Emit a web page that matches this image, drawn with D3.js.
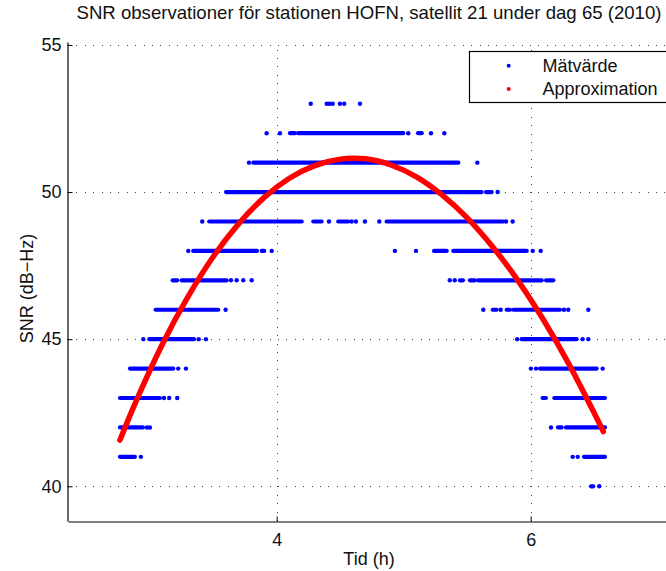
<!DOCTYPE html>
<html>
<head>
<meta charset="utf-8">
<script src="https://cdn.jsdelivr.net/npm/d3@7"></script>
<style>
  html, body { margin: 0; padding: 0; background: #fff; }
  svg { display: block; font-family: "Liberation Sans", Arial, Helvetica, sans-serif; }
</style>
</head>
<body>
<svg id="chart" width="666" height="571"></svg>
<script>
// SNR observations per integer level (dB-Hz), time in hours.
// A single number is one observation, a pair [t0, t1] is a continuous run of observations.
const snr53 = [4.268, 4.394, 4.415, 4.441, 4.498, 4.532, 4.656];
const snr52 = [3.921, 4.026, [4.105, 4.144], [4.170, 4.997], 5.036, [5.113, 5.142], 5.215, 5.320];
const snr51 = [3.782, [3.816, 5.430], 5.580];
const snr50 = [[3.601, 5.614], [5.648, 5.693], 5.740];
const snr49 = [3.414, [3.469, 4.197], [4.288, 4.354], 4.412, [4.485, 4.564], 4.591, 4.624, 4.695, 4.808,
               [4.866, 5.784], 5.806, 5.858];
const snr48 = [3.304, [3.343, 3.845], [3.882, 3.902], 3.961, 4.931, 5.097, [5.239, 5.339],
               [5.391, 5.969], 6.016, 6.079];
const snr47 = [[3.181, 3.217], [3.252, 3.606], 3.640, 3.685, 3.737, 3.803,
               5.363, 5.402, [5.443, 5.467], [5.522, 5.561], [5.587, 6.087], [6.121, 6.178]];
const snr46 = [[3.047, 3.540], 3.598,
               5.627, [5.701, 5.732], 5.764, [5.811, 5.837], [5.863, 6.231], 6.262, 6.296, 6.454];
const snr45 = [2.950, [2.997, 3.349], 3.386, 3.443,
               5.894, [5.929, 6.362], 6.409, 6.454];
const snr44 = [[2.845, 3.186], 3.225, 3.286,
               6.002, 6.042, [6.073, 6.520], 6.567];
const snr43 = [[2.766, 3.081], 3.113, 3.154, 3.217,
               [6.094, 6.120], [6.186, 6.585]];
const snr42 = [[2.766, 2.947], 2.979, 3.002,
               6.160, [6.215, 6.244], [6.278, 6.585]];
const snr41 = [[2.766, 2.884], 2.931,
               6.331, 6.370, [6.420, 6.585]];
const snr40 = [[6.475, 6.493], 6.540];

const snrLevels = [53, 52, 51, 50, 49, 48, 47, 46, 45, 44, 43, 42, 41, 40];
const snrRuns = [snr53, snr52, snr51, snr50, snr49, snr48, snr47, snr46, snr45, snr44, snr43, snr42, snr41, snr40];

// Fitted approximation curve (time in hours, SNR in dB-Hz)
const fitTime = [2.766, 2.9, 3.1, 3.3, 3.5, 3.7, 3.9, 4.1, 4.3, 4.5, 4.7,
                 4.9, 5.1, 5.3, 5.5, 5.7, 5.9, 6.1, 6.3, 6.5, 6.572];
const fitSNR  = [41.57, 42.96, 44.83, 46.43, 47.80, 48.92, 49.81, 50.47, 50.90, 51.12, 51.13,
                 50.92, 50.52, 49.91, 49.12, 48.14, 46.99, 45.66, 44.16, 42.49, 41.86];

// Axes
const xLimits = [2.357, 7.097];
const yLimits = [38.82, 55.10];
const xTicks = [4, 6];
const yTicks = [40, 45, 50, 55];

const titleText = "SNR observationer för stationen HOFN, satellit 21 under dag 65 (2010)";
const xLabel = "Tid (h)";
const yLabel = "SNR (dB\u2212Hz)";
const legendLabels = ["Mätvärde", "Approximation"];
const seriesColors = ["#0000ff", "#ff0000"];

const svg = d3.select("#chart");
const plot = { left: 68, right: 670, top: 42, bottom: 521 };
const fontSize = 18;

const x = d3.scaleLinear().domain(xLimits).range([plot.left, plot.right]);
const y = d3.scaleLinear().domain(yLimits).range([plot.bottom, plot.top]);

// Grid
const grid = svg.append("g").attr("stroke", "#444").attr("stroke-width", 1)
  .attr("stroke-dasharray", "1 7.4").attr("shape-rendering", "crispEdges");
grid.selectAll("line.gx").data(xTicks).join("line")
  .attr("x1", d => Math.round(x(d)) + 0.5).attr("x2", d => Math.round(x(d)) + 0.5)
  .attr("y1", plot.bottom).attr("y2", plot.top);
grid.selectAll("line.gy").data(yTicks).join("line")
  .attr("y1", d => Math.round(y(d)) + 0.5).attr("y2", d => Math.round(y(d)) + 0.5)
  .attr("x1", plot.left).attr("x2", plot.right);

// Observations
const obs = svg.append("g").attr("fill", seriesColors[0]).attr("stroke", seriesColors[0]);
snrLevels.forEach((lvl, i) => {
  const yy = y(lvl);
  snrRuns[i].forEach(r => {
    if (Array.isArray(r)) {
      obs.append("line")
        .attr("x1", x(r[0])).attr("x2", x(r[1]))
        .attr("y1", yy).attr("y2", yy)
        .attr("stroke-width", 4.2).attr("stroke-linecap", "round");
    } else {
      obs.append("circle").attr("cx", x(r)).attr("cy", yy).attr("r", 2.2).attr("stroke", "none");
    }
  });
});

// Approximation curve
const fitPts = fitTime.map((t, i) => [t, fitSNR[i]]);
svg.append("path")
  .datum(fitPts)
  .attr("fill", "none")
  .attr("stroke", seriesColors[1])
  .attr("stroke-width", 5.5)
  .attr("stroke-linecap", "round")
  .attr("stroke-linejoin", "round")
  .attr("d", d3.line().x(d => x(d[0])).y(d => y(d[1])).curve(d3.curveNatural));

// Axes (left and bottom, ticks pointing inward)
const xAxis = d3.axisBottom(x).tickValues(xTicks).tickSizeInner(-5).tickSizeOuter(0).tickFormat(d3.format("d"));
const yAxis = d3.axisLeft(y).tickValues(yTicks).tickSizeInner(-5).tickSizeOuter(0).tickPadding(6).tickFormat(d3.format("d"));

const gx = svg.append("g").attr("transform", `translate(0,${plot.bottom + 0.5})`).call(xAxis);
const gy = svg.append("g").attr("transform", `translate(${plot.left - 0.5},0)`).call(yAxis);
[gx, gy].forEach(g => {
  g.select(".domain").attr("stroke", "#000").attr("stroke-width", 1.2);
  g.selectAll(".tick line").attr("stroke", "#000");
  g.selectAll(".tick text").attr("fill", "#111").attr("font-size", fontSize)
    .attr("font-family", "\"Liberation Sans\", Arial, sans-serif");
});
gx.selectAll(".tick text").attr("dy", null).attr("y", 24);

// Title and labels
svg.append("text").attr("x", (plot.left + plot.right) / 2).attr("y", 19)
  .attr("text-anchor", "middle").attr("font-size", 18.6).attr("fill", "#111").text(titleText);
svg.append("text").attr("x", (plot.left + plot.right) / 2).attr("y", 565)
  .attr("text-anchor", "middle").attr("font-size", fontSize).attr("fill", "#111").text(xLabel);
svg.append("text").attr("transform", `translate(33,${(plot.top + plot.bottom) / 2 + 7}) rotate(-90)`)
  .attr("text-anchor", "middle").attr("font-size", fontSize).attr("fill", "#111").text(yLabel);

// Legend
const lg = svg.append("g");
lg.append("rect").attr("x", 469.5).attr("y", 51.5).attr("width", 210).attr("height", 51)
  .attr("fill", "#fff").attr("stroke", "#000").attr("stroke-width", 1.2);
legendLabels.forEach((lab, i) => {
  const cy = 65.7 + i * 23.3;
  lg.append("circle").attr("cx", 508.7).attr("cy", cy).attr("r", 2).attr("fill", seriesColors[i]);
  lg.append("text").attr("x", 542.5).attr("y", cy).attr("dy", "0.35em")
    .attr("font-size", fontSize).attr("fill", "#111").text(lab);
});
</script>
</body>
</html>
